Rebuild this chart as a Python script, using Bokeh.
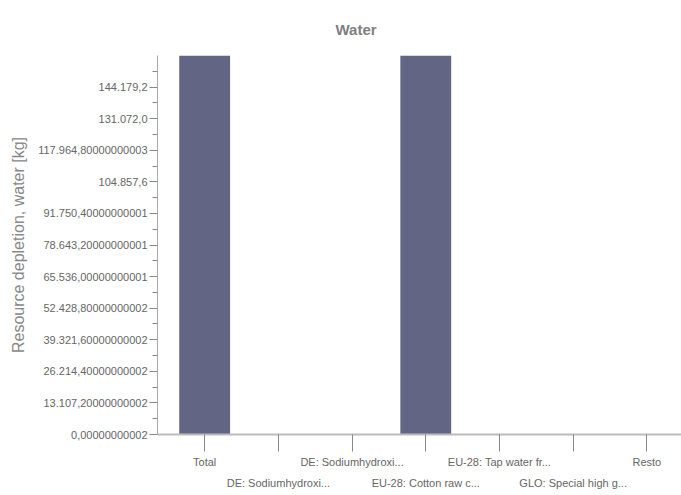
from bokeh.plotting import figure
from bokeh.models import FixedTicker, Range1d, ColumnDataSource
from bokeh.embed import file_html
from bokeh.resources import INLINE

categories = ["Total", "DE: Sodiumhydroxi...", "DE: Sodiumhydroxi...", "EU-28: Cotton raw c...",
              "EU-28: Tap water fr...", "GLO: Special high g...", "Resto"]
values = [420000.0, 180.0, 160.0, 395000.0, 150.0, 120.0, 140.0]
y_ticks = [i * 13107.2 for i in range(12)]
y_tick_labels = ["0,00000000002", "13.107,20000000002", "26.214,40000000002", "39.321,60000000002",
                 "52.428,80000000002", "65.536,00000000001", "78.643,20000000001", "91.750,40000000001",
                 "104.857,6", "117.964,80000000003", "131.072,0", "144.179,2"]
y_max = 157286.4

FONT = "Liberation Sans"
GRAY = "#808080"

xs = list(range(len(categories)))
src = ColumnDataSource(dict(x=xs, top=values))

p = figure(width=681, height=495, output_backend="svg", toolbar_location=None,
           x_range=Range1d(-0.64, 6.47), y_range=Range1d(0, y_max),
           min_border_left=157, min_border_right=0, min_border_top=55, min_border_bottom=61)
p.vbar(x="x", top="top", width=0.69, source=src, fill_color="#636584", line_color=None)

p.title.text = "Water"
p.title.align = "left"
p.title.text_font = FONT
p.title.text_font_style = "bold"
p.title.text_font_size = "15px"
p.title.text_color = GRAY
p.title.offset = 178
p.title.standoff = 36

p.grid.visible = False
p.outline_line_color = None
p.background_fill_color = "white"
p.border_fill_color = "white"

# y axis
ya = p.yaxis[0]
ya.ticker = FixedTicker(ticks=y_ticks, minor_ticks=[t + 6553.6 for t in y_ticks])
ya.major_label_overrides = {t: s for t, s in zip(y_ticks, y_tick_labels)}
ya.axis_label = "Resource depletion, water [kg]"
ya.axis_label_text_font = "Liberation Sans"
ya.axis_label_text_font_style = "normal"
ya.axis_label_text_font_size = "16px"
ya.axis_label_text_color = "#888888"
ya.axis_label_standoff = 8
ya.major_label_text_font = FONT
ya.major_label_text_font_size = "11px"
ya.major_label_text_color = "#666666"
ya.axis_line_color = "#aaaaaa"
ya.major_tick_line_color = "#888888"
ya.minor_tick_line_color = "#888888"
ya.major_tick_out = 8
ya.major_tick_in = 0
ya.minor_tick_out = 5
ya.minor_tick_in = 0
ya.major_label_standoff = 2

# x axis
xa = p.xaxis[0]
xa.ticker = FixedTicker(ticks=xs, minor_ticks=[])
xa.major_label_overrides = {i: (c if i % 2 == 0 else "\n" + c) for i, c in enumerate(categories)}
xa.major_label_text_font = FONT
xa.major_label_text_font_size = "11px"
xa.major_label_text_color = "#666666"
xa.major_label_text_line_height = 1.8
xa.axis_line_color = "#bbbbbb"
xa.axis_line_width = 2
xa.major_tick_line_color = "#888888"
xa.major_tick_out = 17
xa.major_tick_in = 0
xa.major_label_standoff = 4

open("out.html", "w").write(file_html(p, INLINE))
